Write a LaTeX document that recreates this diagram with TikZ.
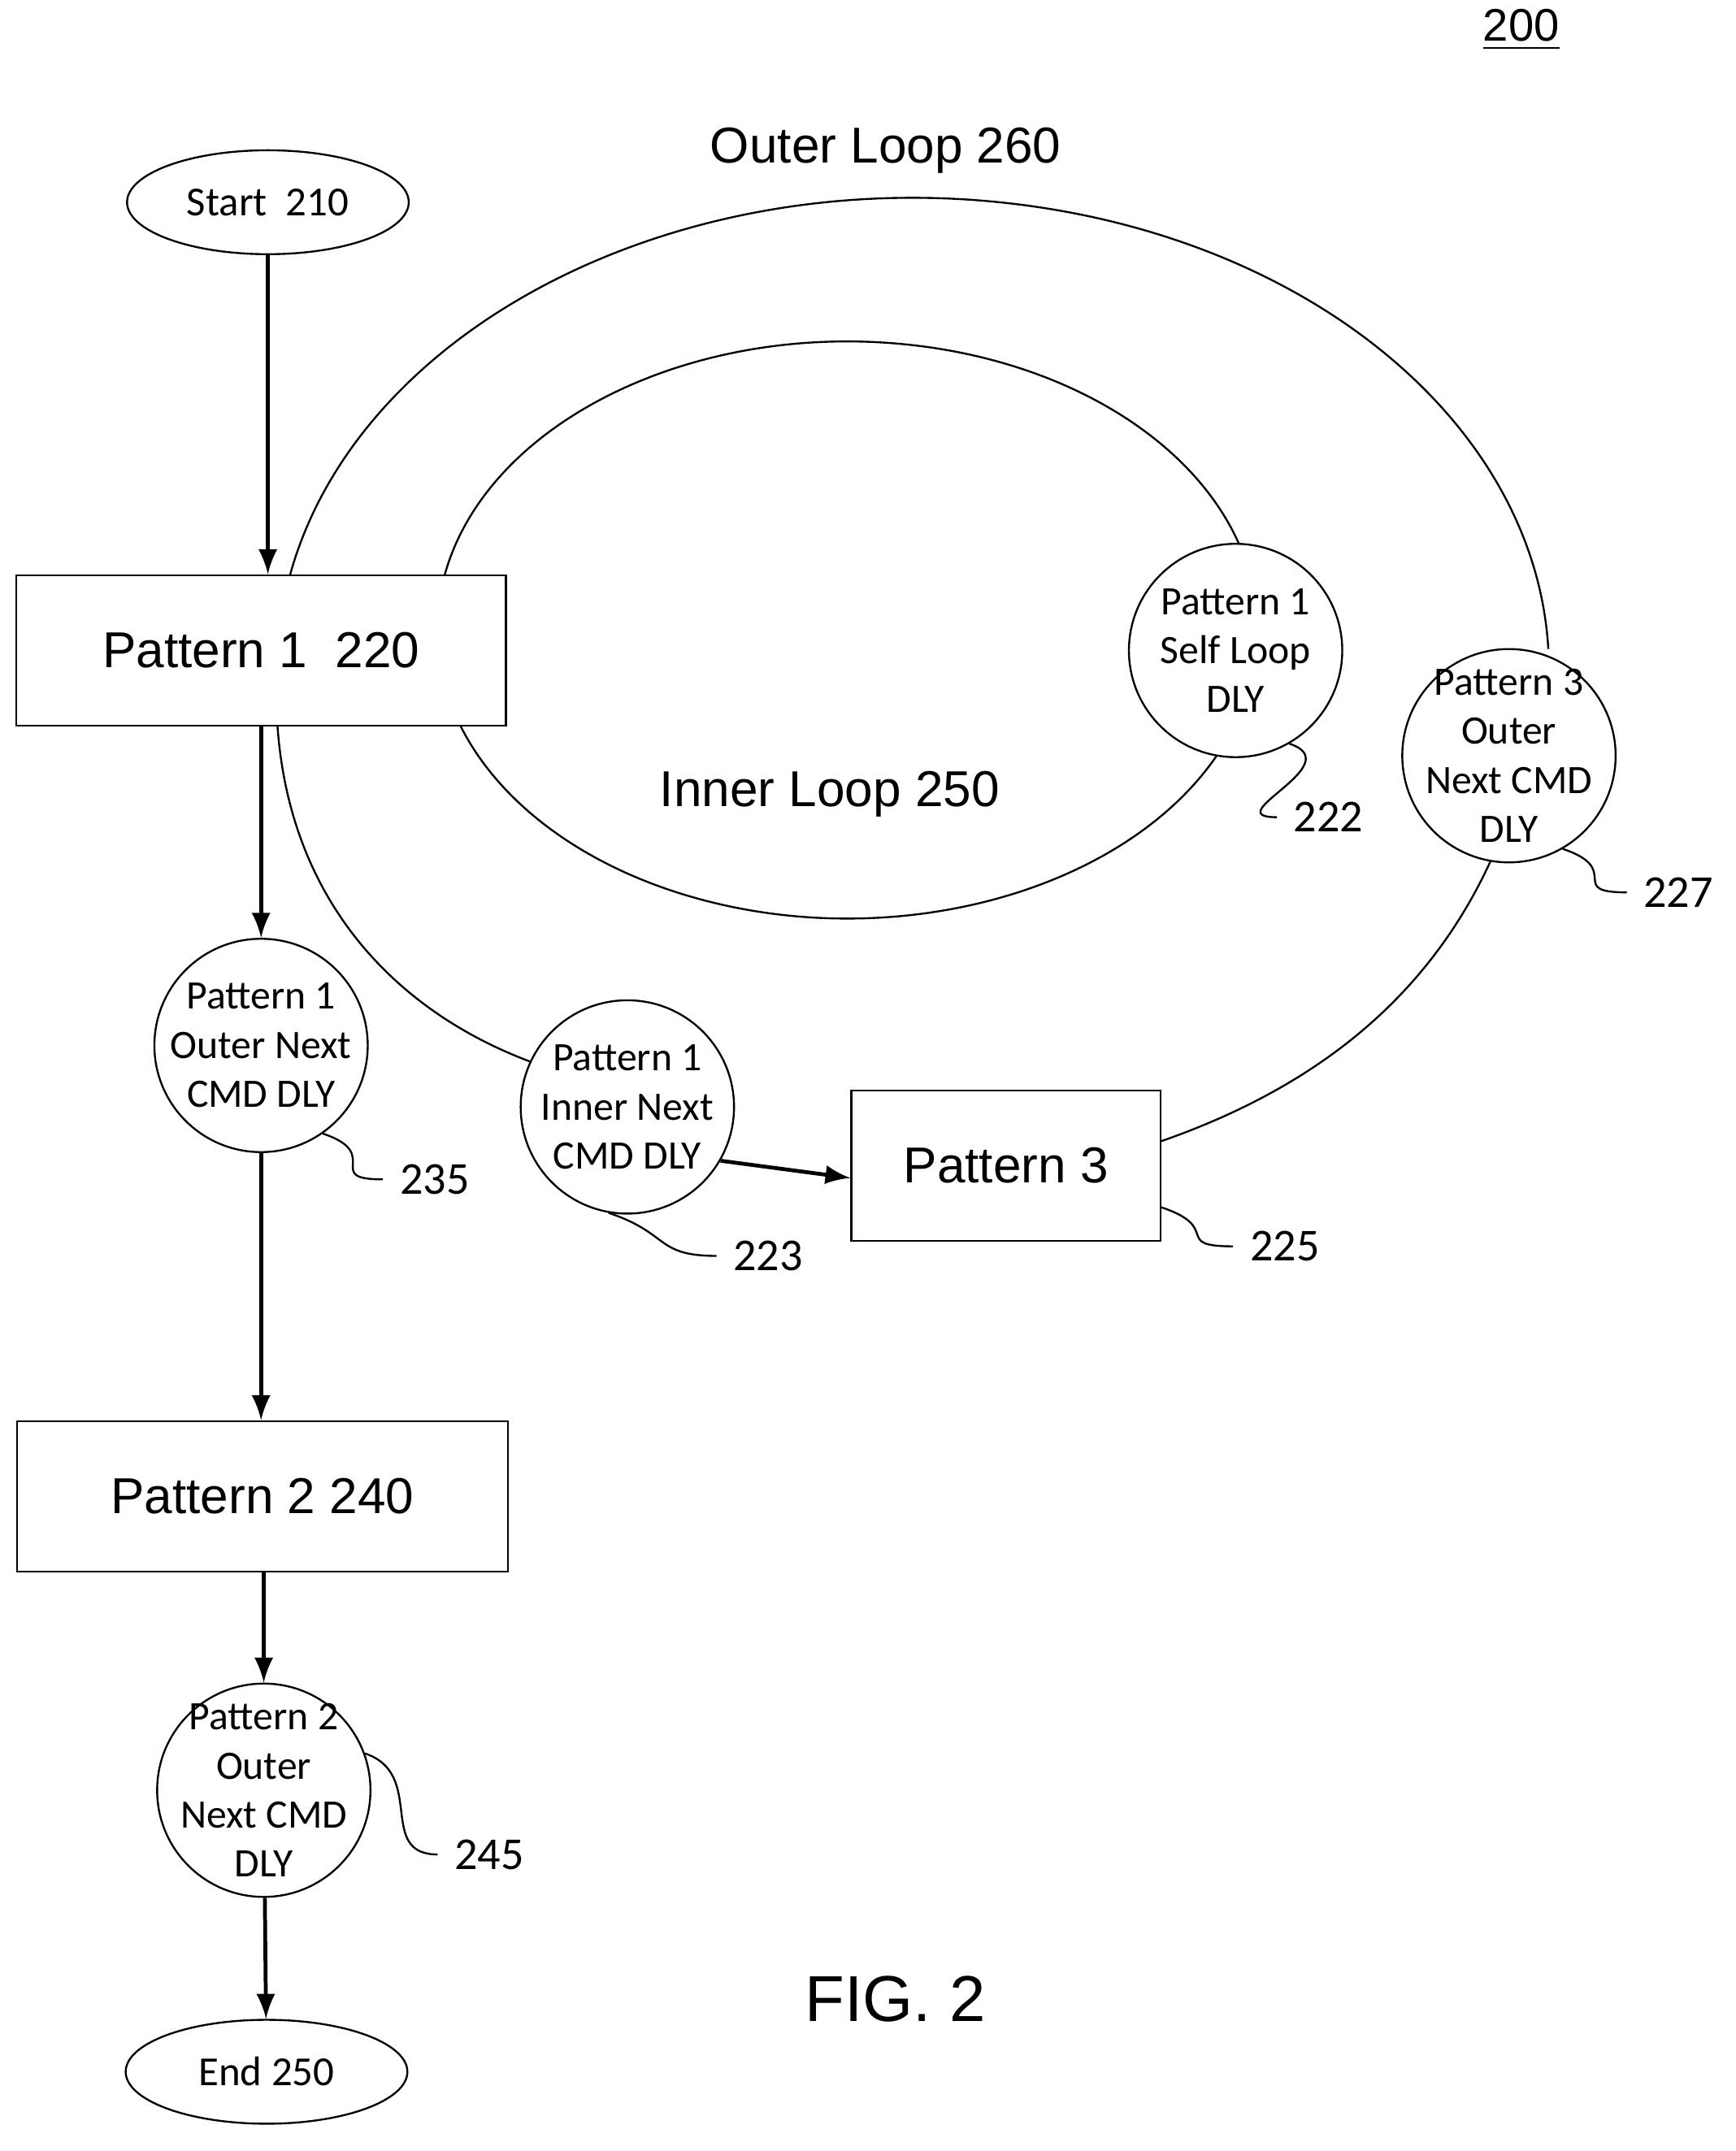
\documentclass[tikz,border=0pt]{standalone}
\usepackage{fontspec}
\setmainfont{Liberation Sans}
\newfontfamily\carl{Carlito}
\usetikzlibrary{positioning,shapes.geometric}
\tikzset{
  box/.style={draw, fill=white, minimum width=3.58cm, minimum height=1.1cm, font=\fontsize{10.5}{12}\selectfont},
  dly/.style={draw, circle, fill=white, minimum size=1.56cm, inner sep=-2pt, align=center, font=\carl\fontsize{8.4}{10.2}\selectfont},
  term/.style={draw, ellipse, minimum width=2.06cm, minimum height=0.76cm, inner sep=0pt, font=\carl\fontsize{8.6}{10}\selectfont},
  num/.style={font=\carl\fontsize{9.5}{11}\selectfont},
  flow/.style={->, >=latex, thick},
}
\newcommand{\squig}[2]{\draw (#1) .. controls +(0.45cm,-0.15cm) and +(-0.45cm,0cm) .. (#2);}
\begin{document}
\begin{tikzpicture}[x=0.01cm, y=-0.01cm]
\useasboundingbox (0,0) rectangle (1270,1574);
\node[font=\fontsize{9.5}{11}\selectfont] at (1113,22) (fig) {\underline{200}};
\node[font=\fontsize{10.5}{12}\selectfont] at (648,110) (outerlbl) {Outer Loop 260};
\node[font=\fontsize{10.5}{12}\selectfont] at (607,581) (innerlbl) {Inner Loop 250};
\node[font=\fontsize{13.5}{15}\selectfont] at (655,1463) (figlbl) {FIG. 2};
% loops (drawn first, nodes cover them)
\coordinate (oc) at (668,490);
\coordinate (ic) at (620,461);
\draw ([shift={(168.5:4.65cm and 3.45cm)}]oc) arc[start angle=168.5, end angle=2.5, x radius=4.65cm, y radius=3.45cm];
\draw ([shift={(169.3:3cm and 2.11cm)}]ic) arc[start angle=169.3, end angle=16.5, x radius=3cm, y radius=2.11cm];
\draw ([shift={(-22.6:3cm and 2.11cm)}]ic) arc[start angle=-22.6, end angle=-160.6, x radius=3cm, y radius=2.11cm];
% nodes
\node[term] at (196,148) (start) {Start~~210};
\node[box] at (191,476) (p1) {Pattern 1~~220};
\node[dly] at (191,765) (p1o) {Pattern 1\\Outer Next\\CMD DLY};
\node[box, minimum width=3.59cm] at (192,1095) (p2) {Pattern 2 240};
\node[dly] at (193,1310) (p2o) {Pattern 2\\Outer\\Next CMD\\DLY};
\node[term] at (195,1516) (end) {End 250};
\node[dly] at (904,476) (p1s) {Pattern 1\\Self Loop\\DLY};
\node[dly] at (1104,553) (p3o) {Pattern 3\\Outer\\Next CMD\\DLY};
\node[dly] at (459,810) (p1i) {Pattern 1\\Inner Next\\CMD DLY};
\node[box, minimum width=2.26cm] at (736,853) (p3) {Pattern 3};
% outer loop lower parts
\draw (p3o.-100) .. controls (1040,740) and (950,800) .. (p3.east |- 835,835);
\draw (203,531) .. controls (212,660) and (290,740) .. (p1i.155);
% flow
\draw[flow] (start) -- (start |- p1.north);
\draw[flow] (p1o.north |- p1.south) -- (p1o);
\draw[flow] (p1o) -- (p1o |- p2.north);
\draw[flow] (p2o.north |- p2.south) -- (p2o);
\draw[flow] (p2o) -- (end);
\draw[flow] (p1i.-30) -- (p3.west |- 0,862);
% reference numbers
\node[num] at (972,598) (n222) {222};
\node[num] at (1228,653) (n227) {227};
\node[num] at (318,863) (n235) {235};
\node[num] at (562,919) (n223) {223};
\node[num] at (940,912) (n225) {225};
\node[num] at (358,1357) (n245) {245};
\squig{p1s.-60}{n222.west}
\squig{p3o.-60}{n227.west}
\squig{p1o.-55}{n235.west}
\squig{p1i.-100}{n223.west}
\squig{p3.-15}{n225.west}
\squig{p2o.20}{n245.west}
\end{tikzpicture}
\end{document}
